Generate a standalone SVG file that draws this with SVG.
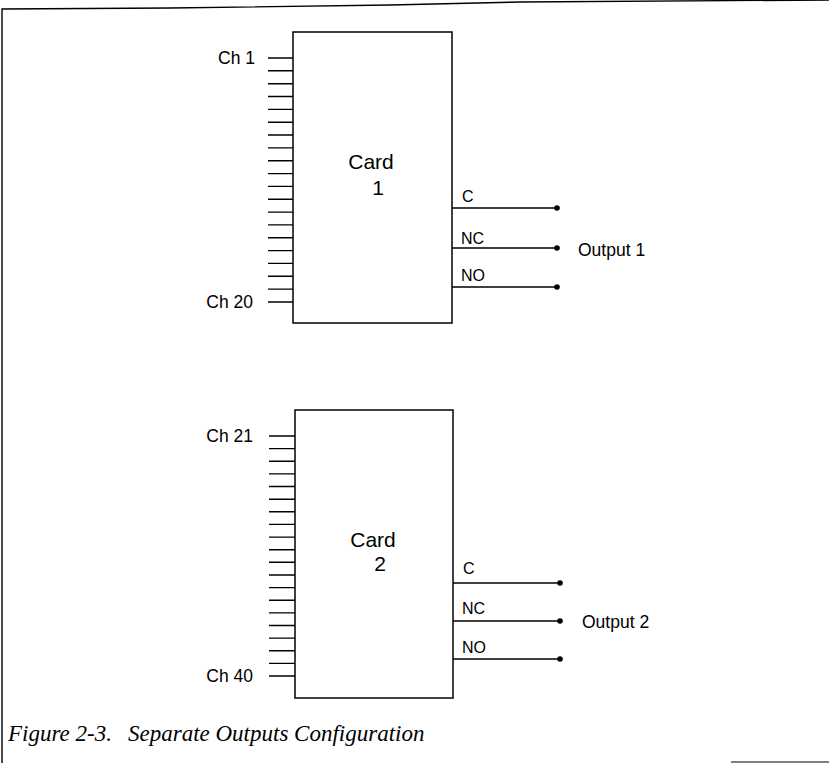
<svg xmlns="http://www.w3.org/2000/svg" width="829" height="763" viewBox="0 0 829 763">
<style>
.ln{stroke:#000;stroke-width:1.4;fill:none}
.box{stroke:#000;stroke-width:1.5;fill:#fff}
.t{font-family:"Liberation Sans",Arial,sans-serif;font-size:17.5px;fill:#000}
.s{font-family:"Liberation Sans",Arial,sans-serif;font-size:16px;fill:#000}
.ct{font-family:"Liberation Sans",Arial,sans-serif;font-size:21px;fill:#000;text-anchor:middle}
.cap{font-family:"Liberation Serif","Times New Roman",serif;font-style:italic;font-size:23px;fill:#000}
.dot{fill:#000}
</style>
<rect width="829" height="763" fill="#fff"/>
<g id="frame">
<polyline class="ln" points="2,763 2,9 170,8 390,5 520,2 829,0"/>
<line x1="731" y1="762" x2="829" y2="762" stroke="#555" stroke-width="1.5"/>
</g>
<g id="card1">
<rect class="box" x="293" y="32" width="159" height="291"/>
<text class="ct" x="371" y="169">Card</text>
<text class="ct" x="378" y="195">1</text>
<text class="t" x="255" y="64" text-anchor="end">Ch 1</text>
<text class="t" x="253" y="308" text-anchor="end">Ch 20</text>
<text class="s" x="462" y="202">C</text>
<text class="s" x="461" y="244">NC</text>
<text class="s" x="461" y="281">NO</text>
</g>
<g id="card2">
<rect class="box" x="295" y="410" width="158" height="288"/>
<text class="ct" x="373" y="547">Card</text>
<text class="ct" x="380" y="571">2</text>
<text class="t" x="253" y="442" text-anchor="end">Ch 21</text>
<text class="t" x="253" y="682" text-anchor="end">Ch 40</text>
<text class="s" x="463" y="574">C</text>
<text class="s" x="462" y="614">NC</text>
<text class="s" x="462" y="653">NO</text>
</g>
<g id="output1">
<text class="t" x="578" y="256">Output 1</text>
</g>
<g id="output2">
<text class="t" x="582" y="628">Output 2</text>
</g>
<g id="connectors">
<path class="ln" d="M268,58H293M268,70.8H293M268,83.7H293M268,96.5H293M268,109.4H293M268,122.2H293M268,135H293M268,147.9H293M268,160.7H293M268,173.6H293M268,186.4H293M268,199.2H293M268,212.1H293M268,224.9H293M268,237.8H293M268,250.6H293M268,263.4H293M268,276.3H293M268,289.1H293M268,302H293"/>
<path class="ln" d="M269,436H295M269,448.6H295M269,461.3H295M269,473.9H295M269,486.5H295M269,499.2H295M269,511.8H295M269,524.4H295M269,537.1H295M269,549.7H295M269,562.3H295M269,575H295M269,587.6H295M269,600.2H295M269,612.9H295M269,625.5H295M269,638.1H295M269,650.8H295M269,663.4H295M269,676H295"/>
<path class="ln" d="M452,208H557M452,248H557M452,287H557"/>
<path class="ln" d="M453,583H560M453,621H560M453,659H560"/>
<circle class="dot" cx="557" cy="208" r="2.8"/>
<circle class="dot" cx="557" cy="248" r="2.8"/>
<circle class="dot" cx="557" cy="287" r="2.8"/>
<circle class="dot" cx="560" cy="583" r="2.8"/>
<circle class="dot" cx="560" cy="621" r="2.8"/>
<circle class="dot" cx="560" cy="659" r="2.8"/>
</g>
<g id="caption">
<text class="cap" x="8" y="741">Figure 2-3.</text>
<text class="cap" x="128" y="741">Separate Outputs Configuration</text>
</g>
</svg>
